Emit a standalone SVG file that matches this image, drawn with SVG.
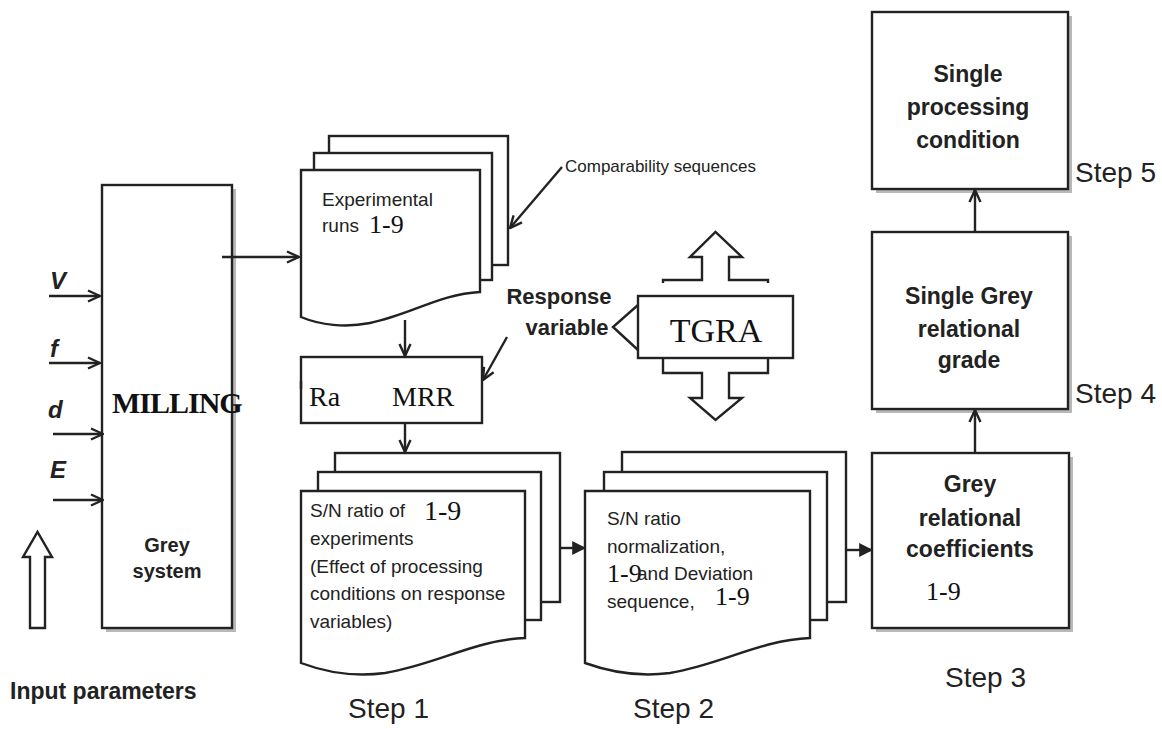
<svg xmlns="http://www.w3.org/2000/svg" width="1162" height="729" viewBox="0 0 1162 729">
<style>
.ln{stroke:#222;stroke-width:2.4;fill:none}
.bx{stroke:#222;stroke-width:2.4;fill:#fff}
.sh{fill:#9a9a9a;opacity:0.7}
.sans{font-family:"Liberation Sans",Arial,sans-serif;fill:#222}
.serif{font-family:"Liberation Serif","Times New Roman",serif;fill:#111}
.b{font-weight:bold}
.doc{font-size:19px}
.step{font-size:28px}
.lbl{font-size:23px;font-weight:bold;text-anchor:middle}
</style>
<defs>
<marker id="open" viewBox="0 0 14 14" refX="13" refY="7" markerWidth="14" markerHeight="14" markerUnits="userSpaceOnUse" orient="auto">
<path d="M1,1.5 L13,7 L1,12.5" fill="none" stroke="#222" stroke-width="2.4"/>
</marker>
<marker id="fill" viewBox="0 0 12 12" refX="11" refY="6" markerWidth="14" markerHeight="14" markerUnits="userSpaceOnUse" orient="auto">
<path d="M0,0 L12,6 L0,12 Z" fill="#222"/>
</marker>
</defs>
<rect width="1162" height="729" fill="#fff"/>

<g id="inputs">
<text class="sans b" x="50" y="289" font-size="24" font-style="italic">V</text>
<text class="sans b" x="50" y="357" font-size="24" font-style="italic">f</text>
<text class="sans b" x="48" y="418" font-size="24" font-style="italic">d</text>
<text class="sans b" x="50" y="478" font-size="24" font-style="italic">E</text>
<path class="bx" d="M30,628 V557 H23 L37.5,532 L52,557 H45 V628 Z"/>
<text class="sans b" x="10" y="699" font-size="23">Input parameters</text>
</g>

<g id="milling">
<rect class="sh" x="106" y="189" width="130" height="443"/>
<rect class="bx" x="102" y="185" width="130" height="443"/>
<text class="serif b" x="112" y="413" font-size="30" letter-spacing="-1">MILLING</text>
<text class="sans b" x="167" y="552" font-size="20" text-anchor="middle">Grey</text>
<text class="sans b" x="167" y="578" font-size="20" text-anchor="middle">system</text>
</g>

<g id="experimental-runs">
<rect class="bx" x="329" y="136" width="179" height="129"/>
<rect class="bx" x="314" y="153" width="178" height="127"/>
<path class="bx" d="M301,170 H480 V292 C440,294 410,315 370,323 C345,328 320,325 301,317 Z"/>
<text class="sans doc" x="322" y="206">Experimental</text>
<text class="sans doc" x="322" y="232">runs</text>
<text class="serif" x="369" y="233" font-size="26">1-9</text>
</g>

<g id="comparability-label">
<text class="sans" x="565" y="172" font-size="17">Comparability sequences</text>
</g>

<g id="response-label">
<text class="sans b" x="559" y="304" font-size="22" text-anchor="middle">Response</text>
<text class="sans b" x="567" y="335" font-size="22" text-anchor="middle">variable</text>
</g>

<g id="ra-mrr">
<rect class="bx" x="301" y="357" width="181" height="66"/>
<path class="ln" d="M301,381 V389" stroke-width="3"/>
<text class="serif" x="309" y="406" font-size="28">Ra</text>
<text class="serif" x="392" y="406" font-size="28">MRR</text>
</g>

<g id="tgra">
<path class="bx" d="M663,283 V280 H702 V257 H690 L715.5,232 L742,257 H729 V280 H768 V283"/>
<path class="bx" d="M663,358 V373 H702 V398 H690 L715.5,420 L742,398 H729 V373 H768 V358"/>
<path class="bx" d="M638,305 L613,327 L638,350"/>
<rect class="bx" x="638" y="296" width="155" height="62"/>
<text class="serif" x="716" y="342" font-size="34" text-anchor="middle">TGRA</text>
</g>

<g id="step1">
<rect class="bx" x="335" y="453" width="225" height="149"/>
<rect class="bx" x="318" y="472" width="223" height="148"/>
<path class="bx" d="M301,491 H525 V638 C475,640 435,665 385,673 C355,677 325,672 301,663 Z"/>
<text class="sans doc" x="310" y="517">S/N ratio of</text>
<text class="serif" x="424" y="520" font-size="28">1-9</text>
<text class="sans doc" x="310" y="545">experiments</text>
<text class="sans doc" x="310" y="573">(Effect of processing</text>
<text class="sans doc" x="310" y="600">conditions on response</text>
<text class="sans doc" x="310" y="628">variables)</text>
<text class="sans step" x="348" y="718">Step 1</text>
</g>

<g id="step2">
<rect class="bx" x="622" y="452" width="224" height="150"/>
<rect class="bx" x="604" y="472" width="223" height="148"/>
<path class="bx" d="M585,491 H810 V638 C760,640 720,665 670,673 C640,677 610,672 585,663 Z"/>
<text class="sans doc" x="607" y="525">S/N ratio</text>
<text class="sans doc" x="607" y="553">normalization,</text>
<text class="serif" x="607" y="582" font-size="26">1-9</text>
<text class="sans doc" x="637" y="580">and Deviation</text>
<text class="sans doc" x="607" y="608">sequence,</text>
<text class="serif" x="715" y="605" font-size="26">1-9</text>
<text class="sans step" x="633" y="718">Step 2</text>
</g>

<g id="step3">
<rect class="sh" x="876" y="457" width="197" height="175"/>
<rect class="bx" x="872" y="453" width="197" height="175"/>
<text class="sans lbl" x="970" y="492">Grey</text>
<text class="sans lbl" x="970" y="526">relational</text>
<text class="sans lbl" x="970" y="557">coefficients</text>
<text class="serif" x="926" y="600" font-size="26">1-9</text>
<text class="sans step" x="945" y="687">Step 3</text>
</g>

<g id="step4">
<rect class="sh" x="876" y="236" width="196" height="177"/>
<rect class="bx" x="872" y="232" width="196" height="177"/>
<text class="sans lbl" x="969" y="304">Single Grey</text>
<text class="sans lbl" x="969" y="337">relational</text>
<text class="sans lbl" x="969" y="368">grade</text>
<text class="sans step" x="1075" y="403">Step 4</text>
</g>

<g id="step5">
<rect class="sh" x="876" y="16" width="196" height="177"/>
<rect class="bx" x="872" y="12" width="196" height="177"/>
<text class="sans lbl" x="968" y="82">Single</text>
<text class="sans lbl" x="968" y="115">processing</text>
<text class="sans lbl" x="968" y="148">condition</text>
<text class="sans step" x="1075" y="182">Step 5</text>
</g>

<g id="connectors">
<path class="ln" d="M49,296 H100" marker-end="url(#open)"/>
<path class="ln" d="M49,363 H100" marker-end="url(#open)"/>
<path class="ln" d="M53,434 H103" marker-end="url(#open)"/>
<path class="ln" d="M53,500 H103" marker-end="url(#open)"/>
<path class="ln" d="M222,257 H299" marker-end="url(#open)"/>
<path class="ln" d="M562,167 L510,228" marker-end="url(#open)"/>
<path class="ln" d="M507,337 L483,380" marker-end="url(#open)"/>
<path class="ln" d="M405,320 V356" marker-end="url(#open)"/>
<path class="ln" d="M405,423 V452" marker-end="url(#open)"/>
<path class="ln" d="M560,548 H585" marker-end="url(#fill)"/>
<path class="ln" d="M846,550 H872" marker-end="url(#fill)"/>
<path class="ln" d="M975,453 V410" marker-end="url(#open)"/>
<path class="ln" d="M975,232 V190" marker-end="url(#open)"/>
</g>
</svg>
